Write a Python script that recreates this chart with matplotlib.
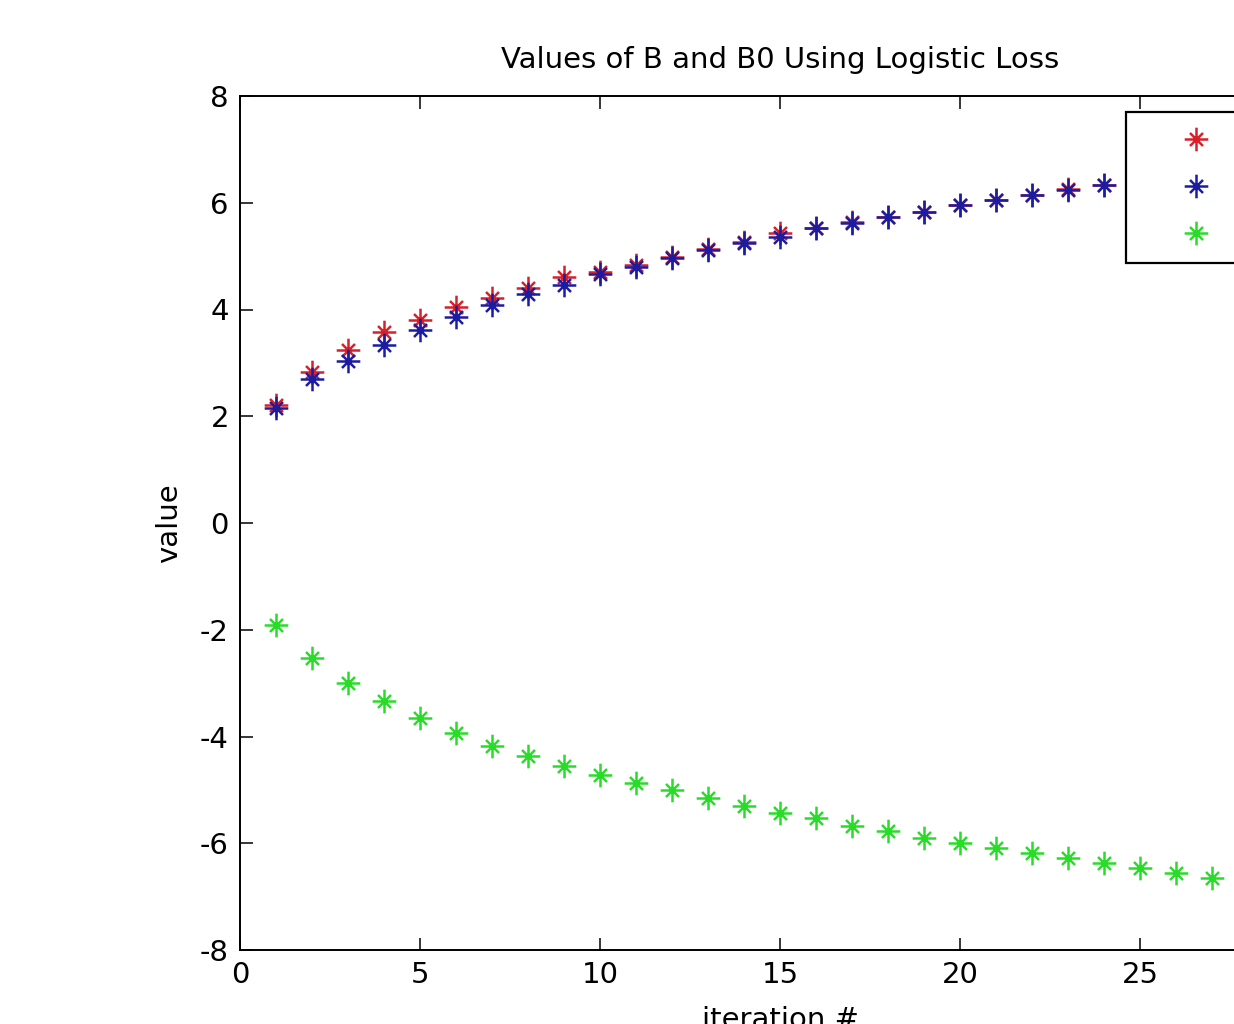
#   Valores de B y B0 con perdida logistica
import matplotlib.pyplot as plt
from matplotlib.path import Path

plt.rcParams['axes.unicode_minus'] = False  # guion normal como en matlab

# datos
iter_b = list(range(1, 25))
b1 = [2.22, 2.83, 3.24, 3.58, 3.80, 4.04, 4.21, 4.40, 4.61, 4.70, 4.83, 4.99,
      5.13, 5.27, 5.43, 5.53, 5.63, 5.74, 5.83, 5.96, 6.06, 6.15, 6.25, 6.34]
b2 = [2.15, 2.70, 3.03, 3.33, 3.61, 3.86, 4.08, 4.29, 4.46, 4.66, 4.79, 4.97,
      5.11, 5.25, 5.36, 5.52, 5.62, 5.73, 5.82, 5.95, 6.05, 6.14, 6.24, 6.33]
iter_b0 = list(range(1, 28))
b0 = [-1.91, -2.53, -2.99, -3.33, -3.66, -3.94, -4.18, -4.36, -4.55, -4.72,
      -4.87, -5.00, -5.15, -5.30, -5.43, -5.52, -5.67, -5.77, -5.90, -5.99,
      -6.09, -6.18, -6.27, -6.37, -6.46, -6.55, -6.65]
labels = ['B(1)', 'B(2)', 'B0']

# asterisco tipo matlab: cruz larga + diagonales cortas
d = 0.55
verts = [(-1, 0), (1, 0), (0, -1), (0, 1), (-d, -d), (d, d), (-d, d), (d, -d)]
codes = [Path.MOVETO, Path.LINETO] * 4
star = Path(verts, codes)

fig = plt.figure(figsize=(12.34, 10.24), dpi=100)
ax = fig.add_axes([240 / 1234, 74 / 1024, 1080 / 1234, 854 / 1024])

kw = dict(linestyle='none', marker=star, markersize=17, markeredgewidth=1.8)
ax.plot(iter_b, b1, color='#d8202a', markeredgecolor='#d8202a', label=labels[0], **kw)
ax.plot(iter_b, b2, color='#1c1ca0', markeredgecolor='#1c1ca0', label=labels[1], **kw)
ax.plot(iter_b0, b0, color='#2adc2a', markeredgecolor='#2adc2a', label=labels[2], **kw)

ax.set_xlim(0, 30)
ax.set_ylim(-8, 8)
ax.set_xticks(range(0, 31, 5))
ax.set_yticks(range(-8, 9, 2))
ax.tick_params(direction='in', length=9, width=1.1, top=True, right=True,
               labelsize=21, pad=8)
for s in ax.spines.values():
    s.set_linewidth(1.4)

ax.set_title('Values of B and B0 Using Logistic Loss', fontsize=21, pad=20)
ax.set_xlabel('iteration #', fontsize=21, labelpad=12)
ax.set_ylabel('value', fontsize=21, labelpad=12)

# la leyenda queda cortada por el borde derecho, como en la original
leg = ax.legend(loc='upper left', bbox_to_anchor=(0.820, 0.981), borderaxespad=0,
                fancybox=False, framealpha=1, edgecolor='black', fontsize=21,
                handlelength=3.8, borderpad=0.5, labelspacing=0.65,
                handletextpad=1.0)
leg.get_frame().set_linewidth(1.6)

fig.savefig('out.png', dpi=100)
